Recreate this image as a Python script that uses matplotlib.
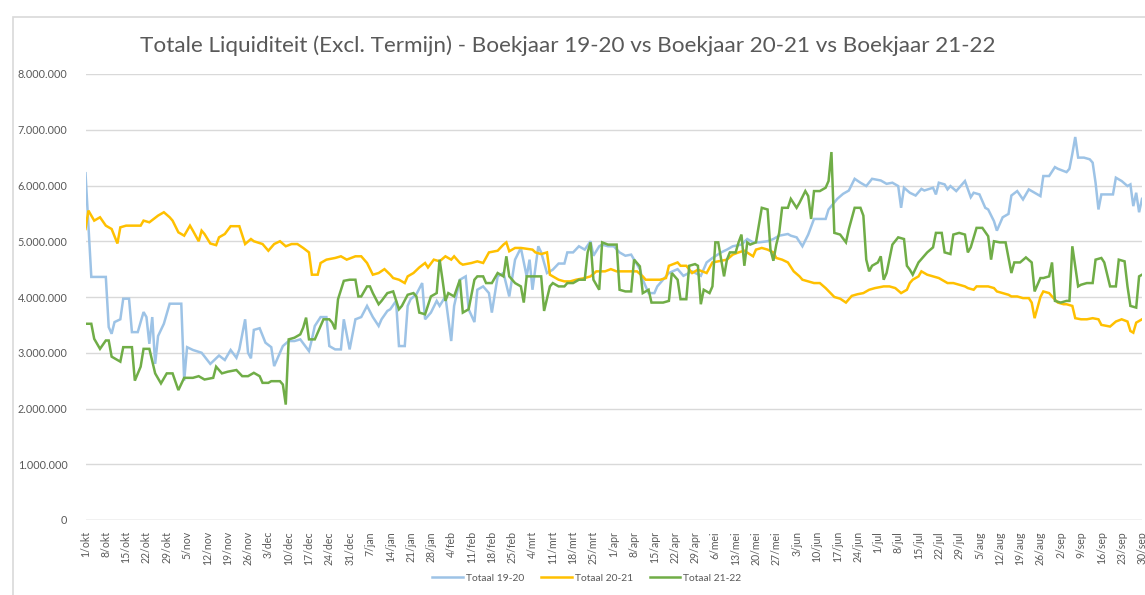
import matplotlib
matplotlib.use("Agg")
import matplotlib.pyplot as plt
from matplotlib.patches import Rectangle
from matplotlib.ticker import FuncFormatter, MultipleLocator

plt.rcParams['font.family'] = ['Lato', 'DejaVu Sans']

# ---------------- data (day offset from 1 Oct, value in millions) ----------------
tick_labels = ["1/okt", "8/okt", "15/okt", "22/okt", "29/okt", "5/nov", "12/nov", "19/nov", "26/nov",
               "3/dec", "10/dec", "17/dec", "24/dec", "31/dec", "7/jan", "14/jan", "21/jan", "28/jan",
               "4/feb", "11/feb", "18/feb", "25/feb", "4/mrt", "11/mrt", "18/mrt", "25/mrt", "1/apr",
               "8/apr", "15/apr", "22/apr", "29/apr", "6/mei", "13/mei", "20/mei", "27/mei", "3/jun",
               "10/jun", "17/jun", "24/jun", "1/jul", "8/jul", "15/jul", "22/jul", "29/jul", "5/aug",
               "12/aug", "19/aug", "26/aug", "2/sep", "9/sep", "16/sep", "23/sep", "30/sep"]

series_names = ["Totaal 19-20", "Totaal 20-21", "Totaal 21-22"]

days_1920 = [0, 2, 7, 8, 9, 10, 12, 13, 15, 16, 18, 20, 21, 22, 23, 24, 25, 27, 29, 33, 34, 35, 37, 40, 43, 46,
             48, 50, 52, 53, 55, 56, 57, 58, 60, 62, 64, 65, 67, 68, 70, 72, 74, 77, 78, 79, 81, 83, 84, 86, 88,
             89, 91, 93, 95, 97, 99, 101, 102, 104, 105, 107, 108, 110, 111, 112, 114, 116, 117, 119, 121, 122,
             124, 126, 127, 129, 131, 132, 134, 135, 137, 139, 140, 142, 144, 146, 148, 150, 152, 153, 154, 156,
             157, 159, 161, 163, 165, 166, 168, 170, 172, 174, 175, 177, 178, 180, 182, 184, 186, 188, 189, 191,
             192, 194, 196, 197, 199, 201, 204, 206, 209, 212, 214, 216, 219, 221, 223, 226, 228, 230, 232, 235,
             237, 239, 242, 243, 245, 247, 249, 251, 255, 256, 259, 261, 263, 265, 267, 269, 271, 274, 276, 278,
             280, 281, 282, 284, 286, 288, 289, 292, 293, 294, 296, 297, 298, 300, 302, 303, 305, 306, 308, 310,
             311, 313, 314, 316, 318, 319, 321, 323, 325, 327, 329, 330, 332, 334, 335, 338, 339, 340, 341, 342,
             344, 346, 347, 348, 349, 350, 352, 354, 355, 357, 359, 360, 361, 362, 363, 364]
vals_1920 = [6.22, 4.36, 4.36, 3.46, 3.34, 3.55, 3.6, 3.97, 3.97, 3.37, 3.37, 3.73, 3.64, 3.16, 3.64, 2.8, 3.3,
             3.52, 3.88, 3.88, 2.5, 3.1, 3.05, 3.0, 2.8, 2.95, 2.87, 3.05, 2.91, 3.06, 3.6, 3.0, 2.9, 3.41, 3.44,
             3.18, 3.1, 2.76, 3.0, 3.12, 3.21, 3.21, 3.24, 3.03, 3.24, 3.48, 3.64, 3.64, 3.12, 3.06, 3.06, 3.6,
             3.06, 3.6, 3.64, 3.84, 3.64, 3.48, 3.6, 3.75, 3.78, 3.93, 3.12, 3.12, 3.84, 3.96, 4.05, 4.25, 3.6,
             3.72, 3.93, 3.84, 4.01, 3.21, 3.84, 4.31, 4.37, 3.78, 3.55, 4.13, 4.19, 4.07, 3.72, 4.37, 4.43, 4.01,
             4.67, 4.88, 4.37, 4.67, 4.13, 4.91, 4.8, 4.43, 4.49, 4.6, 4.6, 4.8, 4.8, 4.91, 4.85, 5.0, 4.74, 4.91,
             4.94, 4.91, 4.91, 4.8, 4.74, 4.76, 4.67, 4.5, 4.31, 4.07, 4.07, 4.19, 4.31, 4.43, 4.5, 4.38, 4.46,
             4.38, 4.62, 4.7, 4.8, 4.85, 4.91, 4.94, 5.04, 4.98, 4.98, 5.0, 5.04, 5.1, 5.13, 5.1, 5.07, 4.91, 5.12,
             5.4, 5.4, 5.57, 5.76, 5.85, 5.91, 6.12, 6.05, 5.99, 6.12, 6.09, 6.03, 6.05, 5.99, 5.6, 5.96, 5.87,
             5.82, 5.94, 5.91, 5.96, 5.84, 6.05, 6.02, 5.93, 5.99, 5.9, 6.02, 6.08, 5.79, 5.87, 5.84, 5.6, 5.57,
             5.36, 5.19, 5.43, 5.49, 5.82, 5.9, 5.75, 5.93, 5.87, 5.81, 6.17, 6.17, 6.33, 6.3, 6.24, 6.3, 6.57,
             6.87, 6.5, 6.5, 6.47, 6.41, 6.05, 5.57, 5.84, 5.84, 5.84, 6.14, 6.08, 5.99, 6.02, 5.63, 5.87, 5.52,
             5.76]

days_2021 = [0, 1, 3, 5, 7, 9, 11, 12, 14, 19, 20, 22, 25, 27, 29, 30, 32, 34, 36, 37, 39, 40, 41, 43, 45, 46,
             48, 50, 53, 55, 57, 58, 61, 63, 65, 67, 69, 71, 73, 75, 77, 78, 80, 81, 83, 86, 88, 90, 93, 95, 97,
             99, 101, 103, 105, 106, 108, 110, 111, 113, 115, 117, 118, 120, 122, 124, 126, 127, 129, 130, 133,
             135, 137, 139, 142, 144, 145, 146, 148, 150, 154, 155, 157, 159, 160, 161, 163, 165, 167, 169, 172,
             174, 176, 179, 181, 183, 186, 190, 192, 193, 198, 200, 201, 204, 205, 207, 209, 211, 214, 216, 219,
             221, 223, 225, 227, 230, 231, 233, 235, 237, 238, 240, 242, 244, 246, 247, 249, 251, 253, 255, 258,
             260, 262, 264, 266, 268, 270, 272, 275, 277, 279, 281, 283, 284, 285, 287, 288, 290, 292, 294, 295,
             297, 299, 301, 303, 304, 306, 307, 309, 311, 313, 314, 316, 318, 319, 321, 323, 325, 326, 327, 329,
             330, 332, 333, 335, 337, 338, 340, 341, 343, 345, 347, 349, 350, 353, 355, 357, 359, 360, 361, 362,
             364]
vals_2021 = [5.22, 5.55, 5.37, 5.43, 5.28, 5.22, 4.96, 5.25, 5.28, 5.28, 5.37, 5.34, 5.46, 5.52, 5.43, 5.37,
             5.16, 5.1, 5.28, 5.19, 5.0, 5.19, 5.13, 4.96, 4.93, 5.07, 5.13, 5.27, 5.27, 4.95, 5.04, 5.0, 4.95,
             4.83, 4.95, 5.0, 4.91, 4.95, 4.95, 4.88, 4.8, 4.4, 4.4, 4.61, 4.67, 4.7, 4.73, 4.67, 4.73, 4.73, 4.61,
             4.4, 4.43, 4.5, 4.4, 4.34, 4.31, 4.25, 4.37, 4.43, 4.53, 4.61, 4.53, 4.67, 4.64, 4.73, 4.67, 4.73,
             4.61, 4.58, 4.61, 4.64, 4.61, 4.8, 4.83, 4.94, 4.98, 4.82, 4.88, 4.88, 4.85, 4.8, 4.77, 4.8, 4.4,
             4.37, 4.31, 4.28, 4.28, 4.31, 4.34, 4.37, 4.46, 4.46, 4.5, 4.46, 4.46, 4.46, 4.37, 4.31, 4.31, 4.34,
             4.56, 4.62, 4.56, 4.56, 4.43, 4.49, 4.43, 4.62, 4.65, 4.67, 4.76, 4.8, 4.83, 4.73, 4.85, 4.88, 4.85,
             4.8, 4.7, 4.67, 4.62, 4.46, 4.37, 4.31, 4.28, 4.25, 4.25, 4.16, 4.0, 3.97, 3.9, 4.02, 4.05, 4.07,
             4.13, 4.16, 4.19, 4.19, 4.16, 4.07, 4.13, 4.25, 4.31, 4.37, 4.46, 4.4, 4.37, 4.34, 4.31, 4.25, 4.25,
             4.22, 4.19, 4.16, 4.13, 4.19, 4.19, 4.19, 4.16, 4.1, 4.07, 4.04, 4.01, 4.01, 3.98, 3.98, 3.9, 3.62,
             4.0, 4.1, 4.07, 4.01, 3.9, 3.87, 3.87, 3.84, 3.62, 3.6, 3.6, 3.62, 3.6, 3.5, 3.47, 3.56, 3.6, 3.56,
             3.39, 3.36, 3.54, 3.6]

days_2122 = [0, 2, 3, 5, 7, 8, 9, 12, 13, 16, 17, 19, 20, 22, 24, 26, 28, 30, 32, 34, 37, 39, 41, 44, 45, 47,
             49, 52, 54, 56, 58, 60, 61, 63, 64, 67, 68, 69, 70, 72, 74, 75, 76, 77, 79, 80, 82, 84, 85, 86, 87,
             89, 91, 93, 94, 95, 97, 98, 99, 101, 102, 104, 106, 108, 109, 111, 113, 114, 115, 117, 119, 120, 121,
             122, 123, 124, 125, 127, 129, 130, 132, 134, 135, 137, 138, 140, 142, 144, 145, 146, 148, 150, 151,
             152, 155, 157, 158, 160, 161, 163, 165, 166, 168, 170, 172, 173, 174, 175, 177, 178, 180, 183, 184,
             186, 188, 189, 191, 192, 194, 195, 197, 199, 201, 202, 204, 205, 207, 208, 210, 211, 212, 213, 215,
             216, 217, 218, 219, 220, 221, 222, 224, 225, 226, 227, 228, 229, 231, 233, 235, 236, 237, 238, 239,
             240, 242, 243, 245, 246, 248, 249, 250, 251, 253, 255, 256, 257, 258, 260, 262, 263, 265, 267, 268,
             269, 270, 271, 273, 274, 275, 276, 278, 280, 282, 283, 284, 285, 287, 288, 290, 292, 293, 295, 296,
             298, 299, 301, 303, 304, 305, 307, 309, 311, 312, 313, 315, 317, 319, 320, 322, 324, 326, 327, 329,
             330, 332, 333, 334, 336, 338, 339, 340, 342, 343, 345, 347, 348, 350, 351, 353, 355, 356, 358, 359,
             360, 362, 363, 364]
vals_2122 = [3.52, 3.52, 3.25, 3.07, 3.22, 3.22, 2.93, 2.84, 3.1, 3.1, 2.5, 2.75, 3.07, 3.07, 2.63, 2.45, 2.63,
             2.63, 2.33, 2.55, 2.55, 2.58, 2.52, 2.55, 2.75, 2.63, 2.66, 2.69, 2.58, 2.58, 2.64, 2.58, 2.46, 2.46,
             2.49, 2.49, 2.43, 2.07, 3.24, 3.27, 3.33, 3.45, 3.63, 3.24, 3.24, 3.36, 3.6, 3.6, 3.54, 3.42, 3.96,
             4.29, 4.31, 4.31, 4.01, 4.01, 4.19, 4.19, 4.07, 3.87, 3.93, 4.07, 4.1, 3.78, 3.84, 4.04, 4.07, 4.01,
             3.72, 3.69, 4.01, 4.04, 4.07, 4.67, 4.31, 3.93, 4.07, 4.01, 4.31, 3.72, 3.78, 4.31, 4.37, 4.37, 4.25,
             4.25, 4.43, 4.37, 4.73, 4.37, 4.25, 4.19, 3.9, 4.37, 4.37, 4.37, 3.75, 4.19, 4.25, 4.19, 4.19, 4.25,
             4.25, 4.31, 4.31, 4.8, 4.98, 4.31, 4.13, 4.98, 4.94, 4.94, 4.13, 4.1, 4.1, 4.67, 4.55, 4.07, 4.13,
             3.9, 3.9, 3.9, 3.93, 4.43, 4.31, 3.96, 3.96, 4.56, 4.59, 4.56, 3.87, 4.13, 4.07, 4.19, 4.98, 4.98,
             4.67, 4.37, 4.67, 4.8, 4.8, 4.98, 5.12, 4.56, 4.98, 4.94, 4.98, 5.6, 5.57, 4.85, 4.65, 4.94, 5.15,
             5.6, 5.6, 5.76, 5.6, 5.69, 5.9, 5.81, 5.4, 5.9, 5.9, 5.96, 6.08, 6.6, 5.15, 5.12, 4.98, 5.22, 5.6,
             5.6, 5.46, 4.67, 4.46, 4.56, 4.62, 4.73, 4.31, 4.43, 4.94, 5.07, 5.04, 4.56, 4.49, 4.4, 4.62, 4.68,
             4.8, 4.89, 5.15, 5.15, 4.8, 4.77, 5.12, 5.15, 5.12, 4.8, 4.89, 5.24, 5.24, 5.09, 4.67, 5.0, 4.98,
             4.98, 4.43, 4.62, 4.62, 4.71, 4.62, 4.1, 4.34, 4.34, 4.37, 4.62, 3.93, 3.9, 3.93, 3.93, 4.91, 4.19,
             4.22, 4.25, 4.25, 4.67, 4.7, 4.62, 4.19, 4.19, 4.67, 4.64, 4.19, 3.84, 3.81, 4.37, 4.4]

colors = ["#9DC3E6", "#FFC000", "#70AD47"]
title = "Totale Liquiditeit (Excl. Termijn) - Boekjaar 19-20 vs Boekjaar 20-21 vs Boekjaar 21-22"

# ---------------- figure ----------------
W, H = 1145, 595
fig = plt.figure(figsize=(W / 100, H / 100), dpi=100)
fig.patch.set_facecolor("white")

# chart-area border (cropped at right and bottom)
fig.patches.append(Rectangle((13 / W, -0.05), 1.2, 1 - 17 / H + 0.05, transform=fig.transFigure,
                             fill=False, edgecolor="#d9d9d9", linewidth=1.2))

ax_left, ax_right = 85.5, 1142.0
ax_bottom, ax_top = 520.0, 74.0
ax = fig.add_axes([ax_left / W, 1 - ax_bottom / H, (ax_right - ax_left) / W, (ax_bottom - ax_top) / H])
ax.set_facecolor("none")

series = [(days_1920, vals_1920), (days_2021, vals_2021), (days_2122, vals_2122)]
for (d, v), c, name in zip(series, colors, series_names):
    ax.plot(d, [x * 1e6 for x in v], color=c, linewidth=1.8, label=name, solid_joinstyle="miter")

ax.set_xlim(0, 364)
ax.set_ylim(0, 8e6)
ax.yaxis.set_major_locator(MultipleLocator(1e6))
ax.yaxis.set_major_formatter(FuncFormatter(lambda v, p: f"{int(round(v)):,}".replace(",", ".")))
ax.set_xticks(list(range(0, 365, 7)))
ax.set_xticklabels(tick_labels, rotation=90, fontsize=7.6, color="#595959", va="top", ha="center")
ax.tick_params(axis="both", length=0)
ax.tick_params(axis="y", labelsize=7.8, labelcolor="#595959", pad=13)
ax.tick_params(axis="x", pad=8)
ax.grid(axis="y", color="#d9d9d9", linewidth=1.0)
ax.set_axisbelow(True)
for s in ["top", "right", "left", "bottom"]:
    ax.spines[s].set_visible(False)
ax.axhline(0, color="#d9d9d9", linewidth=1.0, zorder=0)

fig.text(568 / W, 1 - 46 / H, title, ha="center", va="center", fontsize=16.2, color="#595959")

leg = fig.legend(loc="center", bbox_to_anchor=(587 / W, 1 - 578 / H), ncol=3, frameon=False,
                 fontsize=7.4, handlelength=3.0, columnspacing=1.6, handletextpad=0.3)
for t in leg.get_texts():
    t.set_color("#595959")

fig.savefig("out.png", dpi=100, facecolor="white")
